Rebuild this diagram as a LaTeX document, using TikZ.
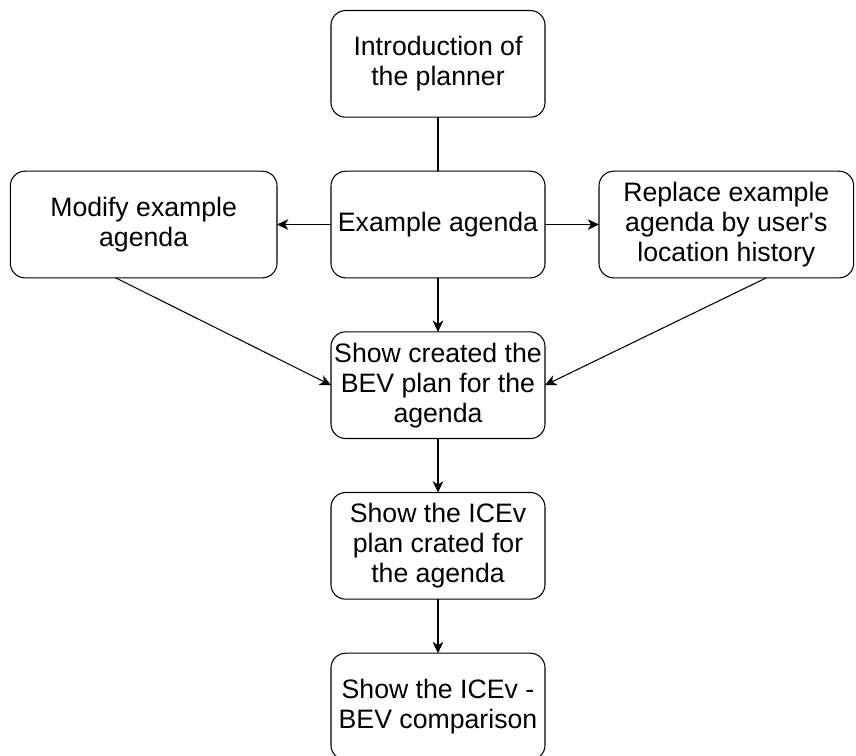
\documentclass[tikz,border=0pt]{standalone}
\usepackage{fontspec}
\setmainfont{Liberation Sans}
\usetikzlibrary{positioning,arrows.meta}

\begin{document}
\begin{tikzpicture}[
    stepbox/.style={draw, rounded corners=11pt, line width=0.8pt,
        minimum width=160.5pt, minimum height=80pt,
        font=\fontsize{20}{22.5}\selectfont, align=center,
        inner sep=2pt, outer sep=0pt},
    flow/.style={line width=0.8pt, -{Stealth[length=8.5pt,width=8pt,inset=2.5pt]}},
    node distance = 40.5pt
    ]
    \useasboundingbox (-328.5pt,168.4pt) rectangle (313.5pt,-397.9pt);
    \node[stepbox] (agenda) at (0,0) {Example agenda};
    \node[stepbox, above=of agenda] (intro) {Introduction of\\the planner};
    \node[stepbox, left=of agenda, minimum width=200pt] (modify) {Modify example\\agenda};
    \node[stepbox, right=of agenda, minimum width=191pt] (replace) {Replace example\\agenda by user\textquotesingle s\\location history};
    \node[stepbox, below=of agenda] (bev) {Show created the\\BEV plan for the\\agenda};
    \node[stepbox, below=of bev] (icev) {Show the ICEv\\plan crated for\\the agenda};
    \node[stepbox, below=of icev] (compare) {Show the ICEv -\\BEV comparison};
    % connectors
    \draw[line width=0.8pt] (intro) -- (agenda);
    \draw[flow] (agenda) -- (modify);
    \draw[flow] (agenda) -- (replace);
    \draw[flow] (agenda) -- (bev);
    \draw[flow] ([xshift=-21pt]modify.south) -- (bev.west);
    \draw[flow] ([xshift=30pt]replace.south) -- (bev.east);
    \draw[flow] (bev) -- (icev);
    \draw[flow] (icev) -- (compare);
\end{tikzpicture}
\end{document}
